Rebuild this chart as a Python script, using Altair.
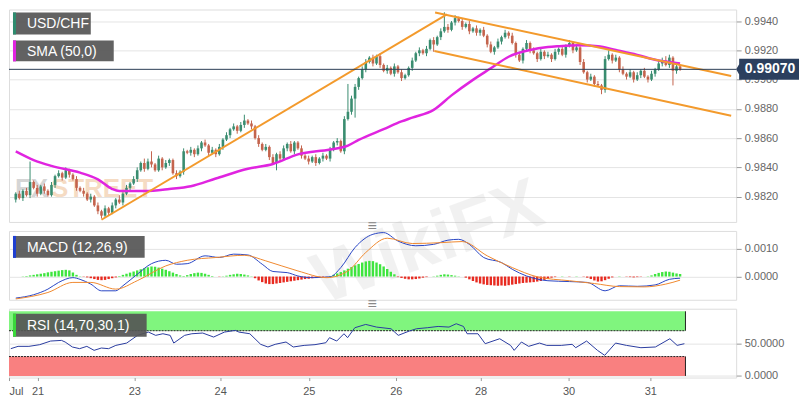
import altair as alt
import pandas as pd

# ---------------- data ----------------
first_open = 0.9818
closes = [
    0.9822, 0.9819, 0.9824, 0.9821, 0.9830, 0.9826, 0.9822, 0.9827, 0.9824, 0.9821,
    0.9828, 0.9834, 0.9836, 0.9833, 0.9838, 0.9835, 0.9832, 0.9826, 0.9824, 0.9822,
    0.9818, 0.9820, 0.9814, 0.9810, 0.9807, 0.9812, 0.9809, 0.9814, 0.9818, 0.9816,
    0.9822, 0.9826, 0.9829, 0.9832, 0.9838, 0.9843, 0.9839, 0.9844, 0.9842, 0.9838,
    0.9846, 0.9840, 0.9843, 0.9845, 0.9836, 0.9834, 0.9837, 0.9851, 0.9850, 0.9852,
    0.9849, 0.9853, 0.9857, 0.9855, 0.9850, 0.9852, 0.9849, 0.9854, 0.9859, 0.9862,
    0.9866, 0.9868, 0.9865, 0.9869, 0.9872, 0.9870, 0.9868, 0.9860, 0.9856, 0.9852,
    0.9854, 0.9847, 0.9843, 0.9849, 0.9846, 0.9853, 0.9856, 0.9851, 0.9857, 0.9853,
    0.9848, 0.9846, 0.9844, 0.9847, 0.9843, 0.9846, 0.9848, 0.9846, 0.9852, 0.9857,
    0.9858, 0.9851, 0.9873, 0.9878, 0.9887, 0.9895, 0.9901, 0.9907, 0.9912, 0.9915,
    0.9911, 0.9916, 0.9910, 0.9906, 0.9908, 0.9904, 0.9909, 0.9905, 0.9901, 0.9903,
    0.9908, 0.9913, 0.9918, 0.9920, 0.9918, 0.9921, 0.9927, 0.9924, 0.9929, 0.9933,
    0.9936, 0.9934, 0.9939, 0.9942, 0.9940, 0.9936, 0.9938, 0.9933, 0.9935, 0.9932,
    0.9934, 0.9930, 0.9924, 0.9919, 0.9922, 0.9926, 0.9929, 0.9932, 0.9930, 0.9925,
    0.9917, 0.9913, 0.9921, 0.9925, 0.9920, 0.9918, 0.9914, 0.9919, 0.9916, 0.9917,
    0.9914, 0.9919, 0.9921, 0.9917, 0.9923, 0.9925, 0.9920, 0.9922, 0.9912, 0.9905,
    0.9900, 0.9902, 0.9897, 0.9896, 0.9893, 0.9914, 0.9917, 0.9913, 0.9915, 0.9907,
    0.9904, 0.9902, 0.9905, 0.9900, 0.9903, 0.9906, 0.9902, 0.9900, 0.9904, 0.9907,
    0.9911, 0.9913, 0.9910, 0.9915, 0.9906, 0.9909, 0.9907,
]
upper_wick_pips = [
    1, 2, 1, 2, 14, 1, 2, 1, 2, 1,
    2, 1, 2, 1, 2, 1, 1, 2, 1, 2,
    1, 2, 1, 2, 1, 2, 1, 2, 1, 3,
    1, 2, 1, 2, 2, 1, 3, 2, 7, 1,
    2, 1, 2, 1, 1, 2, 1, 2, 1, 2,
    1, 2, 1, 2, 1, 2, 1, 2, 1, 2,
    1, 2, 1, 2, 4, 1, 2, 1, 2, 1,
    2, 1, 2, 1, 2, 2, 1, 2, 1, 1,
    2, 1, 2, 1, 2, 1, 2, 1, 2, 1,
    2, 1, 2, 19, 2, 2, 1, 2, 2, 1,
    2, 1, 2, 1, 2, 1, 2, 1, 2, 1,
    1, 2, 1, 2, 1, 2, 1, 2, 1, 2,
    10, 2, 1, 2, 1, 2, 1, 2, 1, 2,
    1, 2, 1, 2, 1, 2, 1, 2, 1, 2,
    1, 2, 1, 2, 1, 2, 1, 2, 1, 2,
    1, 2, 1, 2, 1, 2, 1, 2, 1, 2,
    1, 2, 1, 2, 1, 2, 3, 1, 2, 1,
    2, 1, 2, 1, 2, 1, 2, 1, 2, 1,
    2, 2, 3, 2, 1, 2, 1,
]
lower_wick_pips = [
    2, 1, 2, 1, 2, 1, 2, 1, 2, 1,
    1, 2, 1, 2, 1, 2, 1, 2, 1, 2,
    1, 2, 1, 2, 2, 1, 2, 1, 2, 1,
    2, 1, 2, 1, 2, 1, 2, 1, 2, 1,
    1, 2, 1, 2, 1, 2, 1, 2, 1, 2,
    2, 1, 2, 1, 2, 1, 2, 1, 2, 1,
    2, 1, 2, 1, 2, 1, 2, 1, 2, 1,
    1, 2, 1, 5, 2, 1, 2, 1, 2, 1,
    2, 1, 2, 1, 2, 1, 2, 1, 2, 1,
    2, 1, 2, 1, 2, 13, 2, 1, 2, 1,
    2, 1, 2, 1, 2, 1, 2, 1, 2, 1,
    1, 2, 1, 2, 1, 2, 1, 5, 1, 2,
    1, 2, 1, 2, 1, 2, 1, 2, 1, 2,
    2, 1, 2, 1, 2, 1, 2, 1, 2, 1,
    2, 1, 2, 1, 2, 1, 2, 1, 2, 1,
    2, 1, 2, 1, 2, 1, 2, 1, 2, 1,
    2, 1, 2, 1, 3, 2, 1, 2, 1, 2,
    1, 2, 1, 2, 1, 2, 1, 2, 1, 2,
    1, 2, 1, 2, 10, 2, 1,
]

# SMA(50) read at candle indices
sma_idx = [0, 5, 10, 18, 23, 27, 29, 36, 43, 49, 56, 65, 72, 79, 88, 93, 96, 103, 108,
           111, 117, 122, 128, 133, 138, 144, 149, 152, 158, 163, 168, 174, 179, 186]
sma_val = [0.98509, 0.98450, 0.98410, 0.98364, 0.98318, 0.98252, 0.98238, 0.98238, 0.98252,
           0.98271, 0.98324, 0.98390, 0.98423, 0.98489, 0.98522, 0.98549, 0.98588, 0.98661,
           0.98714, 0.98740, 0.98793, 0.98892, 0.98998, 0.99077, 0.99156, 0.99202, 0.99222,
           0.99228, 0.99235, 0.99228, 0.99202, 0.99169, 0.99136, 0.99110]

# hand-drawn trend lines / channel (id, candle index, price)
trend_id = ["up", "up", "chan_top", "chan_top", "chan_bot", "chan_bot"]
trend_i = [24.0, 120.7, 117.4, 200.3, 117.2, 200.3]
trend_price = [0.98042, 0.99446, 0.99459, 0.99024, 0.99195, 0.98753]

# MACD (12,26,9)
macd_idx = [0, 5, 9, 12, 16, 18, 21, 24, 28, 30, 34, 38, 42, 45, 48, 53, 57, 61, 65, 69, 72,
            76, 79, 83, 88, 91, 95, 100, 103, 107, 112, 117, 121, 124, 127, 131, 136, 139,
            143, 149, 155, 160, 165, 169, 174, 179, 183, 186]
macd_val = [-0.00077, -0.00065, -0.00045, -0.00021, -0.00004, -0.00010, -0.00027, -0.00051,
            -0.00051, -0.00033, 0.00008, 0.00046, 0.00058, 0.00044, 0.00046, 0.00074, 0.00068,
            0.00080, 0.00077, 0.00044, 0.00018, 0.00014, 0.00002, -0.00004, -0.00001, 0.00032,
            0.00104, 0.00151, 0.00157, 0.00127, 0.00110, 0.00115, 0.00130, 0.00133, 0.00115,
            0.00068, 0.00050, 0.00026, 0.00002, -0.00015, -0.00018, -0.00021, -0.00051,
            -0.00033, -0.00035, -0.00030, -0.00010, -0.00006]
signal_idx = [0, 9, 16, 21, 28, 34, 42, 48, 56, 64, 70, 79, 87, 93, 98, 104, 111, 119, 125,
              132, 139, 146, 155, 162, 169, 176, 182, 186]
signal_val = [-0.00080, -0.00057, -0.00021, -0.00021, -0.00045, -0.00015, 0.00038, 0.00058,
              0.00068, 0.00076, 0.00056, 0.00020, -0.00004, 0.00020, 0.00086, 0.00137, 0.00118,
              0.00121, 0.00125, 0.00074, 0.00032, -0.00001, -0.00015, -0.00025, -0.00036,
              -0.00037, -0.00027, -0.00013]
# histogram, one bar per candle, in units of 0.00001
hist_e5 = [
    0, 0, 1, 2,
    4, 6, 8, 10, 12, 15, 17, 19, 21, 23, 24, 22, 14, 6,
    1, -1,
    -3, -6, -9, -12, -13, -12, -9, -6, -3,
    2, 6, 10, 14, 18, 22, 26, 30, 33, 36, 35, 32, 28, 24, 19, 14, 9, 4,
    2, 5, 9, 12, 14, 13, 10, 6, 2,
    0, -1, 1,
    3, 6, 8, 10, 9, 7, 4, 1,
    -6, -14, -20, -25, -27, -27, -25, -23, -21, -19, -17, -15, -13, -11, -9, -8, -6, -5, -4, -2, -1,
    2, 6, 11, 16, 22, 28, 34, 40, 45, 50, 54, 56, 55, 50, 44, 36, 27, 17, 8,
    -2, -5, -8, -10, -10, -9, -7, -4, -2,
    0, 1,
    3, 6, 8, 7, 5, 3, 1,
    0,
    -4, -10, -16, -21, -25, -28, -30, -31, -32, -33, -32, -33, -31, -29, -27, -25, -23, -22, -21,
    -20, -18, -16, -12, -8, -4,
    -2, 0, 1, 0, -1, 0, 1, 0, -1,
    -4, -9, -14, -18, -17, -13, -8, -3,
    0, 1, 0, -1, -2, -3, -2, -1, 0, 1,
    4, 9, 13, 16, 18, 17, 14, 11, 9,
]

# RSI (14,70,30,1)
rsi_idx = [0, 2, 5, 8, 11, 14, 15, 17, 19, 21, 23, 25, 27, 29, 32, 35, 38, 40, 42, 44, 45, 48,
           50, 53, 56, 59, 62, 63, 66, 69, 71, 73, 76, 78, 81, 84, 87, 88, 90, 92, 93, 95, 98,
           101, 105, 107, 110, 112, 115, 118, 121, 123, 125, 126, 129, 131, 135, 138, 139, 141,
           143, 146, 148, 152, 155, 156, 159, 162, 164, 167, 170, 174, 178, 182, 184, 186]
rsi_val = [42.2, 45.8, 45.8, 48.4, 54.0, 55.0, 52.5, 44.8, 42.2, 45.8, 39.6, 43.2, 42.2, 47.3,
           50.9, 62.8, 67.9, 62.8, 65.3, 62.8, 50.9, 62.8, 65.3, 66.4, 60.2, 67.9, 70.5, 67.9,
           65.3, 48.9, 44.8, 48.9, 52.5, 44.8, 47.3, 48.4, 51.4, 59.2, 54.0, 65.3, 59.2, 74.6,
           79.7, 75.6, 73.0, 62.8, 69.4, 73.0, 74.6, 76.6, 75.6, 80.8, 76.6, 65.3, 65.3, 49.9,
           57.6, 47.3, 39.6, 52.5, 45.8, 50.9, 47.3, 47.3, 48.9, 43.7, 54.0, 39.6, 31.9, 50.9,
           47.3, 43.7, 44.8, 57.6, 47.3, 49.9]
rsi_upper, rsi_lower, rsi_top, rsi_bottom = 70, 30, 100, 0
zone_end_idx = 186.3

# axes
price_ticks = [0.9820, 0.9840, 0.9860, 0.9880, 0.9900, 0.9920, 0.9940]
macd_ticks = [0.0, 0.0010]
rsi_ticks = [0.0, 50.0]
date_pos = [-0.5, 7.4, 34.1, 57.8, 82.3, 106.3, 129.7, 154.0, 176.6]
date_lab = ["Jul", "21", "23", "24", "25", "26", "28", "30", "31"]
legend_labels = ["USD/CHF", "SMA (50,0)", "MACD (12,26,9)", "RSI (14,70,30,1)"]

# ---------------- tables ----------------
n = min(len(closes), len(upper_wick_pips), len(lower_wick_pips), len(hist_e5))
opens = [first_open] + closes[:-1]
rows = []
for k in range(n):
    o, c = opens[k], closes[k]
    rows.append({
        "i": k, "open": o, "close": c,
        "high": max(o, c) + upper_wick_pips[k] * 0.0001,
        "low": min(o, c) - lower_wick_pips[k] * 0.0001,
        "hist": hist_e5[k] * 0.00001,
    })
cdf = pd.DataFrame(rows)
sma_df = pd.DataFrame({"i": sma_idx, "v": sma_val})
trend_df = pd.DataFrame({"id": trend_id, "i": trend_i, "price": trend_price})
macd_df = pd.DataFrame({"i": macd_idx, "v": macd_val})
sig_df = pd.DataFrame({"i": signal_idx, "v": signal_val})
rsi_df = pd.DataFrame({"i": rsi_idx, "v": rsi_val})
last_df = pd.DataFrame({"price": [closes[n - 1]]})
ob_df = pd.DataFrame({"i": [-0.5], "x1": [zone_end_idx], "y0": [rsi_upper], "y1": [rsi_top]})
os_df = pd.DataFrame({"i": [-0.5], "x1": [zone_end_idx], "y0": [rsi_bottom], "y1": [rsi_lower]})
lvl_df = pd.DataFrame({"i": [-0.5, -0.5], "x1": [zone_end_idx, zone_end_idx], "y": [rsi_upper, rsi_lower]})
edge_df = pd.DataFrame({"i": [zone_end_idx, zone_end_idx], "y0": [rsi_upper, rsi_bottom],
                        "y1": [rsi_top, rsi_lower]})

# ---------------- styling ----------------
W = 729
FONT = "Liberation Sans"
GREEN_C, RED_C = "#3a8d70", "#c4644d"
xscale = alt.Scale(domain=[-0.5, 200.3], nice=False, zero=False)
X = alt.X("i:Q", scale=xscale, axis=None, title=None)


def yaxis(values, fmt):
    return alt.Axis(orient="right", values=values, format=fmt, grid=True, gridColor="#e4e4e4",
                    domain=False, tickColor="#9a9a9a", tickSize=5, labelColor="#666666",
                    labelFontSize=11, labelFont=FONT, labelPadding=3, title=None)


main_scale = alt.Scale(domain=[0.98027, 0.99479], nice=False, zero=False)
main_axis = yaxis(price_ticks, ".4f")


def YM(f):
    return alt.Y(f, scale=main_scale, axis=main_axis, title=None)


def legend_box(label, bar_color, x0, x1, y0, y1):
    d = pd.DataFrame({"t": [label]})
    bg = alt.Chart(d).mark_rect(color="#555555", opacity=0.92).encode(
        x=alt.value(x0), x2=alt.value(x1), y=alt.value(y0), y2=alt.value(y1))
    bar = alt.Chart(d).mark_rect(color=bar_color).encode(
        x=alt.value(x0), x2=alt.value(x0 + 3), y=alt.value(y0), y2=alt.value(y1))
    txt = alt.Chart(d).mark_text(align="left", baseline="middle", color="white",
                                 fontSize=14, font=FONT).encode(
        x=alt.value(x0 + 14), y=alt.value((y0 + y1) / 2 + 1), text="t:N")
    return [bg, bar, txt]


candle_color = alt.condition("datum.close >= datum.open", alt.value(GREEN_C), alt.value(RED_C))

wm_df = pd.DataFrame({"a": ["FX"], "b": ["STREET"], "w": ["WikiFX"]})
wm_fx = alt.Chart(wm_df).mark_text(align="left", baseline="middle", fontSize=26, fontWeight="bold",
                                   font=FONT, color="#8a8a8a", opacity=0.35).encode(
    x=alt.value(6), y=alt.value(180), text="a:N")
wm_st = alt.Chart(wm_df).mark_text(align="left", baseline="middle", fontSize=26, fontWeight="bold",
                                   font=FONT, color="#e39a55", opacity=0.35).encode(
    x=alt.value(42), y=alt.value(180), text="b:N")

wicks = alt.Chart(cdf).mark_rule(strokeWidth=1).encode(x=X, y=YM("low:Q"), y2="high:Q", color=candle_color)
bodies = alt.Chart(cdf).mark_bar(size=2.6).encode(x=X, y=YM("open:Q"), y2="close:Q", color=candle_color)
sma_line = alt.Chart(sma_df).mark_line(color="#e024e0", strokeWidth=2.5, interpolate="monotone").encode(
    x=X, y=YM("v:Q"))
trend = alt.Chart(trend_df).mark_line(color="#f39a2c", strokeWidth=2, clip=True).encode(
    x=X, y=YM("price:Q"), detail="id:N")
last_rule = alt.Chart(last_df).mark_rule(color="#2b3d55", strokeWidth=1).encode(y=YM("price:Q"))
tag_path = "M -1.1 0 L -1 -0.17 L -1 -0.35 L 1 -0.35 L 1 0.35 L -1 0.35 L -1 0.17 Z"
last_tag = alt.Chart(last_df).mark_point(shape=tag_path, size=3600, filled=True, opacity=1,
                                         color="#2b3f5e").encode(x=alt.value(762), y=YM("price:Q"))
last_txt = alt.Chart(last_df).mark_text(color="white", fontWeight="bold", fontSize=14, font=FONT,
                                        baseline="middle").encode(
    x=alt.value(763), y=YM("price:Q"), text=alt.Text("price:Q", format=".5f"))

main = alt.layer(
    wm_fx, wm_st, wicks, bodies, sma_line, trend, last_rule, last_tag, last_txt,
    *legend_box(legend_labels[0], "#2e8b6e", 4, 82, 3, 25),
    *legend_box(legend_labels[1], "#e024e0", 4, 105, 31, 52),
).properties(width=W, height=213)

# ---------------- MACD panel ----------------
macd_scale = alt.Scale(domain=[-0.00083, 0.00163], nice=False, zero=False)
macd_axis = yaxis(macd_ticks, ".4f")


def YD(f):
    return alt.Y(f, scale=macd_scale, axis=macd_axis, title=None)


hist = alt.Chart(cdf).mark_bar(size=2.4).encode(
    x=X, y=YD("hist:Q"), y2=alt.datum(0),
    color=alt.condition("datum.hist >= 0", alt.value("#3ee53e"), alt.value("#e82a20")))
macd_line = alt.Chart(macd_df).mark_line(color="#2a46c4", strokeWidth=1, interpolate="monotone").encode(
    x=X, y=YD("v:Q"))
sig_line = alt.Chart(sig_df).mark_line(color="#f08a30", strokeWidth=1, interpolate="monotone").encode(
    x=X, y=YD("v:Q"))
grip_df = pd.DataFrame({"g": ["\u2261"]})
grip1 = alt.Chart(grip_df).mark_text(fontSize=16, color="#888888", baseline="middle").encode(
    x=alt.value(364), y=alt.value(-5), text="g:N")
wikifx = alt.Chart(wm_df).mark_text(fontSize=72, fontWeight="bold", font=FONT, color="#bdbdbd",
                                    opacity=0.2, angle=340, baseline="middle").encode(
    x=alt.value(420), y=alt.value(12), text="w:N")

macd = alt.layer(
    wikifx, hist, macd_line, sig_line, grip1,
    *legend_box(legend_labels[2], "#1f3fd0", 4, 136, 5, 27),
).properties(width=W, height=69)

# ---------------- RSI panel ----------------
rsi_scale = alt.Scale(domain=[-2.5, 104], nice=False, zero=False)
rsi_axis = yaxis(rsi_ticks, ".4f")


def YR(f):
    return alt.Y(f, scale=rsi_scale, axis=rsi_axis, title=None)


label_expr = " : ".join(f"abs(datum.value - ({p})) < 0.01 ? '{lab}'" for p, lab in zip(date_pos, date_lab)) + " : ''"
x_axis = alt.Axis(values=date_pos, labelExpr=label_expr, grid=False, domain=False,
                  tickColor="#9a9a9a", tickSize=3, labelColor="#555555", labelFontSize=11,
                  labelFont=FONT, labelPadding=5, labelFlush=True, title=None)
XR = alt.X("i:Q", scale=xscale, title=None, axis=x_axis)
ob_zone = alt.Chart(ob_df).mark_rect(color="#80f57e").encode(x=XR, x2="x1:Q", y=YR("y0:Q"), y2="y1:Q")
os_zone = alt.Chart(os_df).mark_rect(color="#f98080").encode(x=XR, x2="x1:Q", y=YR("y0:Q"), y2="y1:Q")
lvl_rules = alt.Chart(lvl_df).mark_rule(color="#222222", strokeWidth=1, strokeDash=[2, 1]).encode(
    x=XR, x2="x1:Q", y=YR("y:Q"))
edge_rules = alt.Chart(edge_df).mark_rule(color="#222222", strokeWidth=1).encode(
    x=XR, y=YR("y0:Q"), y2="y1:Q")
rsi_line = alt.Chart(rsi_df).mark_line(color="#2a3ca0", strokeWidth=1).encode(x=XR, y=YR("v:Q"))
grip2 = alt.Chart(grip_df).mark_text(fontSize=16, color="#888888", baseline="middle").encode(
    x=alt.value(364), y=alt.value(-5), text="g:N")

rsi = alt.layer(
    ob_zone, os_zone, lvl_rules, edge_rules, rsi_line, grip2,
    *legend_box(legend_labels[3], "#3ad83a", 4, 138, 5, 28),
).properties(width=W, height=69)

chart = alt.vconcat(main, macd, rsi, spacing=9, bounds="flush").resolve_scale(
    x="independent", y="independent", color="independent"
).properties(
    padding={"left": 0, "top": 0, "right": 0, "bottom": 0}
).configure_view(fill="#f7f7f7", stroke="#d4d4d4", strokeWidth=1).configure(background="white")

chart.save("out.html", embed_options={"renderer": "svg", "actions": False})
